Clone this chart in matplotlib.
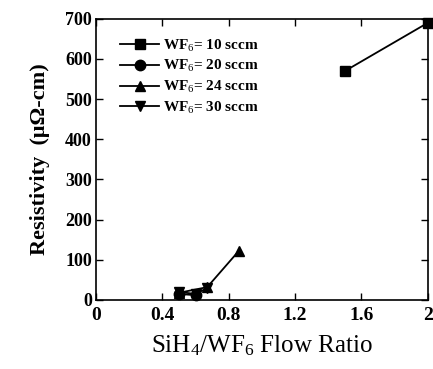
import matplotlib
matplotlib.use("Agg")
import matplotlib.pyplot as plt

plt.rcParams['font.family'] = ['Liberation Serif', 'DejaVu Serif']
plt.rcParams['mathtext.fontset'] = 'custom'
plt.rcParams['mathtext.rm'] = 'Liberation Serif'
plt.rcParams['mathtext.it'] = 'Liberation Serif:italic'
plt.rcParams['mathtext.bf'] = 'Liberation Serif:bold'

labels = ["WF$_6$= 10 sccm", "WF$_6$= 20 sccm", "WF$_6$= 24 sccm", "WF$_6$= 30 sccm"]
markers = ["s", "o", "^", "v"]
x10 = [1.5, 2.0]
y10 = [570, 690]
x20 = [0.5, 0.6]
y20 = [15, 12]
x24 = [0.5, 0.67, 0.86]
y24 = [18, 32, 122]
x30 = [0.5, 0.6, 0.67]
y30 = [20, 15, 30]
xs = [x10, x20, x24, x30]
ys = [y10, y20, y24, y30]

xticks = [0, 0.4, 0.8, 1.2, 1.6, 2]
xticklabels = ["0", "0.4", "0.8", "1.2", "1.6", "2"]
yticks = [0, 100, 200, 300, 400, 500, 600, 700]

fig = plt.figure(figsize=(4.33, 3.69), dpi=100)
ax = fig.add_axes([0.222, 0.187, 0.766, 0.762])

for x, y, m, lab in zip(xs, ys, markers, labels):
    ax.plot(x, y, color='black', marker=m, markersize=7.5, linewidth=1.3, label=lab, clip_on=False)

ax.set_xlim(0, 2)
ax.set_ylim(0, 700)
ax.set_xticks(xticks)
ax.set_xticklabels(xticklabels)
ax.set_yticks(yticks)
ax.tick_params(direction='in', top=True, right=True, length=5, width=1)
ax.tick_params(axis='x', labelsize=14, pad=5)
ax.tick_params(axis='y', labelsize=13, pad=3)
for lab in ax.get_xticklabels() + ax.get_yticklabels():
    lab.set_fontweight('bold')
for s in ax.spines.values():
    s.set_linewidth(1.2)

ax.set_xlabel("SiH$_4$/WF$_6$ Flow Ratio", fontsize=18, labelpad=7)
ax.set_ylabel("Resistivity  (μΩ-cm)", fontsize=16, fontweight='bold', labelpad=11)

leg = ax.legend(loc='upper left', frameon=False, fontsize=11, handlelength=2.5,
                handletextpad=0.3, labelspacing=0.3, borderaxespad=0.0,
                bbox_to_anchor=(0.055, 0.955))
for t in leg.get_texts():
    t.set_fontweight('bold')

fig.savefig("out.png", dpi=100)
